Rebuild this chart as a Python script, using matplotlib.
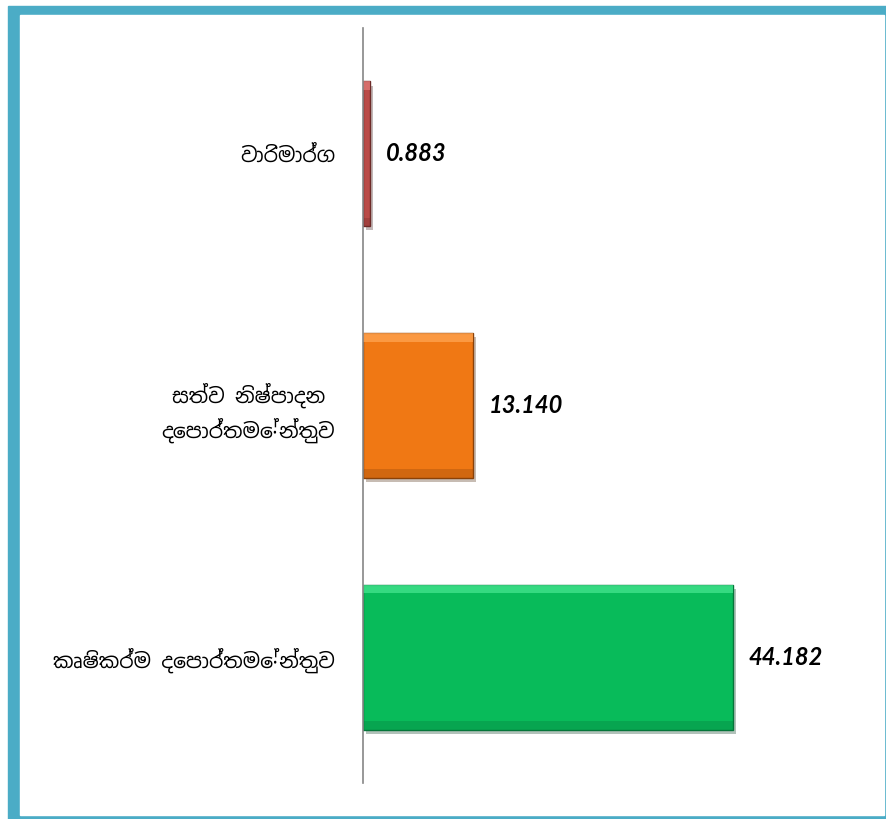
import matplotlib
matplotlib.use("Agg")
import matplotlib.pyplot as plt
from matplotlib import font_manager
from matplotlib.patches import Rectangle
import matplotlib.patheffects as pe

# data (bottom to top)
departments = ["කෘෂිකර්ම දෙපාර්තමේන්තුව",
               "සත්ව නිෂ්පාදන\nදෙපාර්තමේන්තුව",
               "වාරිමාර්ග"]
values = [44.182, 13.140, 0.883]
value_labels = ["44.182", "13.140", "0.883"]

bar_colors = ["#08BB5A", "#F07814", "#B94A47"]
edge_colors = ["#05753A", "#8A4108", "#6E2A28"]
light_colors = ["#45E58F", "#FFA552", "#E07A77"]

# use a Sinhala-capable font if one happens to be installed
names = sorted({f.name for f in font_manager.fontManager.ttflist})
sinhala = [n for n in names if "Sinhala" in n or "Iskoola" in n]
label_family = sinhala[:1] + ["Noto Sans", "DejaVu Sans"]

W, H = 886, 819
fig = plt.figure(figsize=(W / 100, H / 100), dpi=100)

# teal frame: thick left/top, thin right/bottom
fig.patches.append(Rectangle((8 / W, 0), 1 - 8 / W, 1 - 6 / H,
                             transform=fig.transFigure, color="#4BACC6", zorder=-2))
fig.patches.append(Rectangle((20 / W, 4 / H), (884 - 20) / W, (816 - 16) / H,
                             transform=fig.transFigure, color="white", zorder=-1))

ax = fig.add_axes([363 / W, 1 - 783 / H, 418.5 / W, (783 - 28) / H])
ax.set_facecolor("none")

ypos = list(range(len(values)))
bar_h = 0.575
ax.barh(ypos, values, height=bar_h, color=bar_colors, edgecolor=edge_colors,
        linewidth=1.0, zorder=3,
        path_effects=[pe.SimplePatchShadow(offset=(2, -3), alpha=0.3),
                      pe.Normal()])

# bevel highlight on top and darker band on bottom
band = bar_h * 0.06
ax.barh([y + bar_h / 2 - band / 2 for y in ypos], values, height=band,
        color=light_colors, linewidth=0, zorder=4, alpha=0.75)
ax.barh([y - bar_h / 2 + band / 2 for y in ypos], values, height=band,
        color=edge_colors, linewidth=0, zorder=4, alpha=0.3)

for y, v, lab in zip(ypos, values, value_labels):
    ax.annotate(lab, (v, y), xytext=(11.5, 0), textcoords="offset points",
                ha="left", va="center", fontsize=17, fontweight="bold",
                fontstyle="italic", family=["Lato", "DejaVu Sans"], color="black")

ax.set_xlim(0, 50)
ax.set_ylim(-0.5, 2.5)
ax.set_yticks(ypos)
ax.set_yticklabels(departments, fontsize=14.7, family=label_family,
                   linespacing=1.45, multialignment="center")
ax.tick_params(axis="y", length=0, pad=20)
ax.set_xticks([])
for side in ["top", "right", "bottom"]:
    ax.spines[side].set_visible(False)
ax.spines["left"].set_color("#868686")
ax.spines["left"].set_linewidth(1.2)
ax.spines["left"].set_zorder(5)

fig.savefig("out.png", dpi=100)
